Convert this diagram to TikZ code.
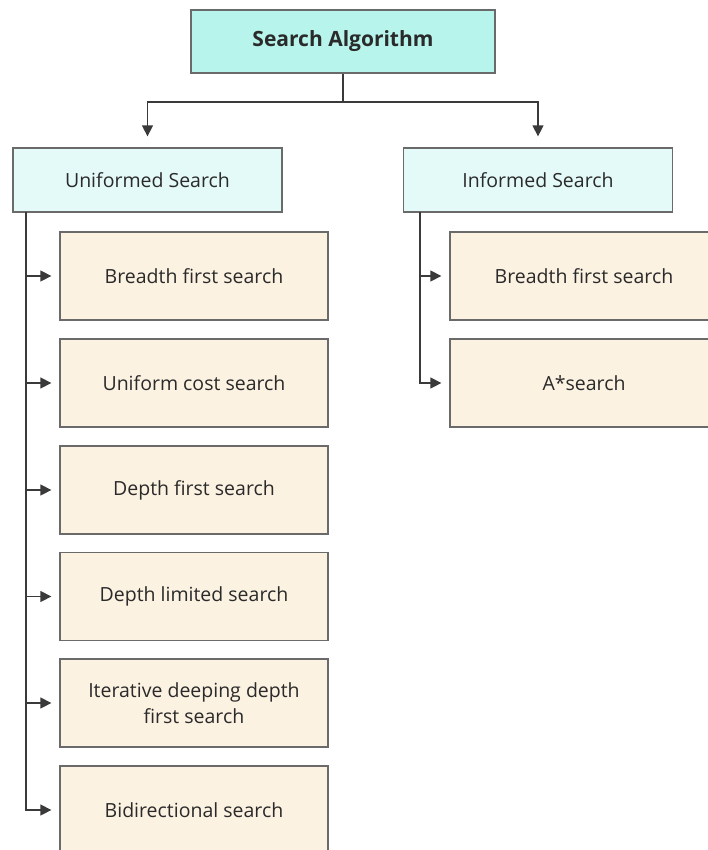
\documentclass[tikz,border=0pt]{standalone}
\usepackage{fontspec}
\setmainfont{Open Sans}
\usetikzlibrary{arrows.meta}
\definecolor{rootfill}{HTML}{B6F4EC}
\definecolor{groupfill}{HTML}{E4FAF8}
\definecolor{leaffill}{HTML}{FCF2E2}
\definecolor{edgegray}{HTML}{6A6A6A}
\definecolor{linkgray}{HTML}{3A3A3A}
\definecolor{txt}{HTML}{2A2A2A}
\tikzset{
  x=1pt, y=-1pt,
  box/.style={draw=edgegray, line width=1.3pt, inner sep=0pt, align=center,
              text=txt, font=\fontsize{19.5}{26}\selectfont},
  rootbox/.style={box, fill=rootfill, minimum width=304pt, minimum height=63pt,
                  font=\fontsize{21}{26}\selectfont\bfseries},
  groupbox/.style={box, fill=groupfill, minimum width=269pt, minimum height=64pt},
  leafbox/.style={box, fill=leaffill, minimum width=268pt, minimum height=88pt},
  link/.style={draw=linkgray, line width=1.4pt},
  arr/.style={link, -{Triangle[length=11pt,width=11pt]}, shorten >=8pt},
}
\begin{document}
\begin{tikzpicture}
\useasboundingbox (0,0) rectangle (708,850);
\fill[white] (0,0) rectangle (708,850);
\clip (0,0) rectangle (708,850);

% hierarchy boxes
\node[rootbox]  (root) at (343,41.5) {Search Algorithm};
\node[groupbox] (uni)  at (147.5,180) {Uniformed Search};
\node[groupbox] (inf)  at (538,180)   {Informed Search};

\node[leafbox] (u1) at (194,276)   {Breadth first search};
\node[leafbox] (u2) at (194,383)   {Uniform cost search};
\node[leafbox] (u3) at (194,490)   {Depth first search};
\node[leafbox] (u4) at (194,596.5) {Depth limited search};
\node[leafbox] (u5) at (194,703)   {Iterative deeping depth\\first search};
\node[leafbox] (u6) at (194,810)   {Bidirectional search};

\node[leafbox] (i1) at (584,276) {Breadth first search};
\node[leafbox] (i2) at (584,383) {A*search};

% connectors
\coordinate (split) at (343,102);
\coordinate (utrunk) at (26,212);
\coordinate (itrunk) at (420,212);

\draw[link] (root.south) -- (split);
\draw[arr, shorten >=11pt] (split) -| (uni.north);
\draw[arr, shorten >=11pt] (split) -| (inf.north);

\foreach \n in {u1,u2,u3,u4,u5,u6}
  \draw[arr] (utrunk) |- (\n.west);
\foreach \n in {i1,i2}
  \draw[arr] (itrunk) |- (\n.west);
\end{tikzpicture}
\end{document}
